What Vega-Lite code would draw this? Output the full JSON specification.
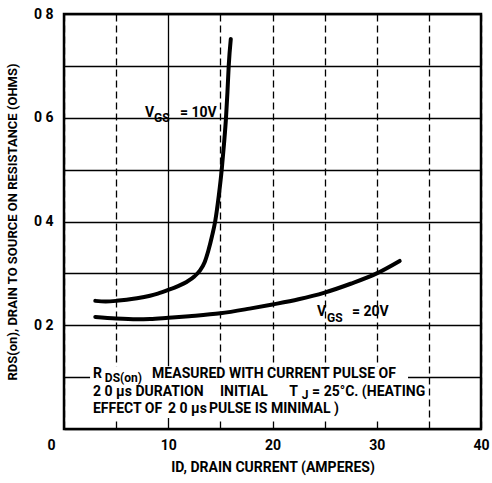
{
  "$schema": "https://vega.github.io/schema/vega-lite/v6.json",
  "width": 417,
  "height": 415,
  "autosize": "none",
  "padding": {"left": 64, "top": 14, "right": 11, "bottom": 54},
  "background": "white",
  "config": {
    "view": {"stroke": "black", "strokeWidth": 2.5},
    "font": "Roboto",
    "text": {"font": "Roboto", "fontWeight": "bold", "color": "black", "align": "left", "baseline": "alphabetic"}
  },
  "datasets": {
    "curves": [
      {"series": "10V", "id": 3.0, "r": 0.247},
      {"series": "10V", "id": 4.0, "r": 0.246},
      {"series": "10V", "id": 5.0, "r": 0.247},
      {"series": "10V", "id": 6.0, "r": 0.249},
      {"series": "10V", "id": 7.0, "r": 0.252},
      {"series": "10V", "id": 8.25, "r": 0.257},
      {"series": "10V", "id": 9.0, "r": 0.261},
      {"series": "10V", "id": 10.0, "r": 0.268},
      {"series": "10V", "id": 11.0, "r": 0.276},
      {"series": "10V", "id": 11.8, "r": 0.284},
      {"series": "10V", "id": 12.5, "r": 0.294},
      {"series": "10V", "id": 13.05, "r": 0.306},
      {"series": "10V", "id": 13.5, "r": 0.322},
      {"series": "10V", "id": 13.85, "r": 0.344},
      {"series": "10V", "id": 14.2, "r": 0.372},
      {"series": "10V", "id": 14.5, "r": 0.40},
      {"series": "10V", "id": 14.85, "r": 0.45},
      {"series": "10V", "id": 15.13, "r": 0.50},
      {"series": "10V", "id": 15.35, "r": 0.55},
      {"series": "10V", "id": 15.54, "r": 0.60},
      {"series": "10V", "id": 15.68, "r": 0.65},
      {"series": "10V", "id": 15.8, "r": 0.70},
      {"series": "10V", "id": 16.0, "r": 0.752},
      {"series": "20V", "id": 3.0, "r": 0.216},
      {"series": "20V", "id": 5.0, "r": 0.213},
      {"series": "20V", "id": 7.0, "r": 0.2115},
      {"series": "20V", "id": 8.25, "r": 0.212},
      {"series": "20V", "id": 10.0, "r": 0.2145},
      {"series": "20V", "id": 12.0, "r": 0.2175},
      {"series": "20V", "id": 15.0, "r": 0.223},
      {"series": "20V", "id": 17.8, "r": 0.232},
      {"series": "20V", "id": 20.0, "r": 0.240},
      {"series": "20V", "id": 22.5, "r": 0.250},
      {"series": "20V", "id": 25.0, "r": 0.263},
      {"series": "20V", "id": 27.5, "r": 0.280},
      {"series": "20V", "id": 30.0, "r": 0.300},
      {"series": "20V", "id": 32.2, "r": 0.324}
    ],
    "box": [
      {"x1": 2.5, "x2": 33.0, "y1": 0.021, "y2": 0.121}
    ],
    "notes": [
      {"kind": "main", "x": 7.77, "y": 0.601, "text": "V"},
      {"kind": "sub", "x": 8.63, "y": 0.592, "text": "GS"},
      {"kind": "main", "x": 11.13, "y": 0.601, "text": "= 10V"},
      {"kind": "main", "x": 24.27, "y": 0.218, "text": "V"},
      {"kind": "sub", "x": 25.23, "y": 0.206, "text": "GS"},
      {"kind": "main", "x": 27.63, "y": 0.218, "text": "= 20V"},
      {"kind": "main", "x": 2.78, "y": 0.0983, "text": "R"},
      {"kind": "sub", "x": 3.92, "y": 0.0906, "text": "DS(on)"},
      {"kind": "main", "x": 8.45, "y": 0.0983, "text": "MEASURED WITH CURRENT PULSE OF"},
      {"kind": "main", "x": 2.78, "y": 0.0636, "text": "2 0 μs"},
      {"kind": "main", "x": 6.85, "y": 0.0636, "text": "DURATION"},
      {"kind": "main", "x": 14.96, "y": 0.0636, "text": "INITIAL"},
      {"kind": "main", "x": 21.6, "y": 0.0636, "text": "T"},
      {"kind": "sub", "x": 22.8, "y": 0.0578, "text": "J"},
      {"kind": "main", "x": 23.8, "y": 0.0636, "text": "= 25°C. (HEATING"},
      {"kind": "main", "x": 2.78, "y": 0.0308, "text": "EFFECT OF"},
      {"kind": "main", "x": 9.98, "y": 0.0308, "text": "2 0 μs"},
      {"kind": "main", "x": 13.9, "y": 0.0308, "text": "PULSE IS MINIMAL )"}
    ]
  },
  "layer": [
    {
      "data": {"name": "box"},
      "mark": {"type": "rect", "fill": "white", "stroke": null},
      "encoding": {
        "x": {"field": "x1", "type": "quantitative", "scale": {"domain": [0, 40]},
          "axis": {
            "values": [0, 5, 10, 15, 20, 25, 30, 35, 40],
            "title": "ID, DRAIN CURRENT (AMPERES)",
            "titleFont": "Roboto", "titleFontSize": 14, "titleFontWeight": "bold", "titleColor": "black", "titlePadding": 8,
            "labelExpr": "datum.value % 10 == 0 ? datum.label : ''",
            "labelFont": "Roboto", "labelFontSize": 14, "labelFontWeight": "bold", "labelColor": "black", "labelPadding": 9,
            "labelOffset": {"condition": {"test": "datum.value == 0", "value": -13}, "value": 0},
            "labelFlush": false,
            "ticks": false, "domain": false,
            "grid": true, "gridColor": "black", "gridOpacity": 1, "gridWidth": 1.3,
            "gridDash": {"condition": {"test": "datum.value == 10", "value": []}, "value": [7, 4]}
          }},
        "x2": {"field": "x2"},
        "y": {"field": "y1", "type": "quantitative", "scale": {"domain": [0, 0.8]},
          "axis": {
            "values": [0, 0.1, 0.2, 0.3, 0.4, 0.5, 0.6, 0.7, 0.8],
            "title": "RDS(on), DRAIN TO SOURCE ON RESISTANCE (OHMS)",
            "titleFont": "Roboto", "titleFontSize": 13, "titleFontWeight": "bold", "titleColor": "black", "titlePadding": 14,
            "labelExpr": "(datum.value > 0.15 && round(datum.value * 10) % 2 == 0) ? replace(format(datum.value, '.1f'), '.', ' ') : ''",
            "labelFont": "Roboto", "labelFontSize": 14, "labelFontWeight": "bold", "labelColor": "black", "labelPadding": 11,
            "labelFlush": false,
            "ticks": false, "domain": false,
            "grid": true, "gridColor": "black", "gridOpacity": 1, "gridWidth": 1.3
          }},
        "y2": {"field": "y2"}
      }
    },
    {
      "data": {"name": "curves"},
      "mark": {"type": "line", "color": "black", "strokeWidth": 4, "interpolate": "monotone", "strokeCap": "round"},
      "encoding": {
        "x": {"field": "id", "type": "quantitative"},
        "y": {"field": "r", "type": "quantitative"},
        "detail": {"field": "series", "type": "nominal"}
      }
    },
    {
      "data": {"name": "notes"},
      "transform": [{"filter": "datum.kind == 'main'"}],
      "mark": {"type": "text", "fontSize": 14},
      "encoding": {
        "x": {"field": "x", "type": "quantitative"},
        "y": {"field": "y", "type": "quantitative"},
        "text": {"field": "text"}
      }
    },
    {
      "data": {"name": "notes"},
      "transform": [{"filter": "datum.kind == 'sub'"}],
      "mark": {"type": "text", "fontSize": 12},
      "encoding": {
        "x": {"field": "x", "type": "quantitative"},
        "y": {"field": "y", "type": "quantitative"},
        "text": {"field": "text"}
      }
    }
  ]
}
